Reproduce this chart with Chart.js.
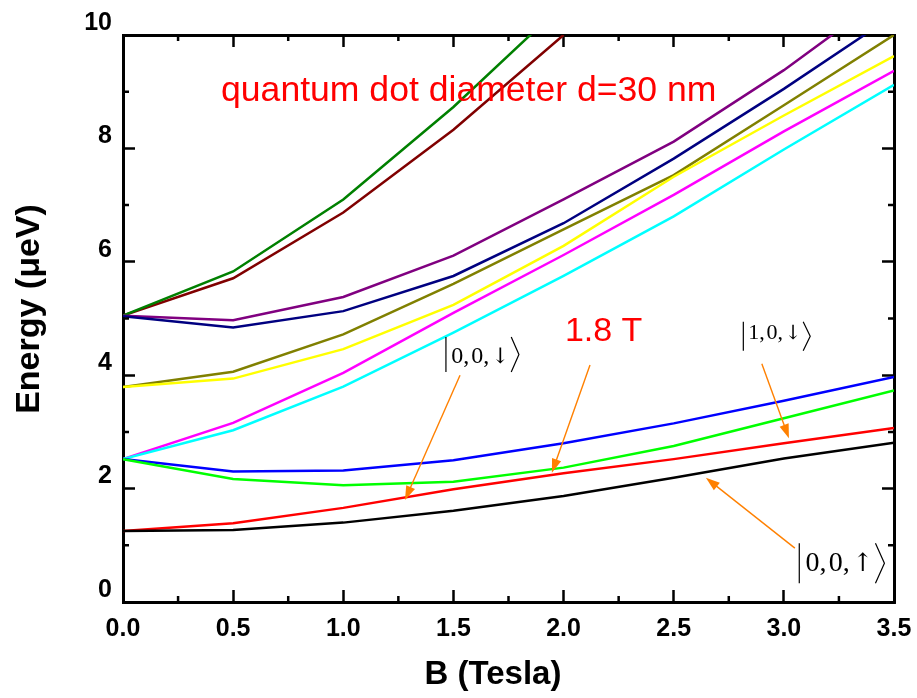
<!DOCTYPE html>
<html>
<head>
<meta charset="utf-8">
<script src="https://cdn.jsdelivr.net/npm/chart.js@4.4.0/dist/chart.umd.min.js"></script>
<style>
  html, body { margin: 0; padding: 0; background: #fff; }
  #wrap { width: 917px; height: 698px; }
</style>
</head>
<body>
<div id="wrap"><canvas id="energyChart" width="917" height="698"></canvas></div>
<script>
// magnetic field (Tesla)
const fieldB = [0, 0.5, 1.0, 1.5, 2.0, 2.5, 3.0, 3.5];

// energy levels (ueV)
const levelBlack   = [1.25, 1.27, 1.40, 1.61, 1.87, 2.19, 2.53, 2.81];
const levelRed     = [1.25, 1.39, 1.66, 1.99, 2.27, 2.52, 2.80, 3.07];
const levelLime    = [2.52, 2.17, 2.06, 2.12, 2.37, 2.75, 3.24, 3.73];
const levelBlue    = [2.52, 2.30, 2.32, 2.50, 2.80, 3.15, 3.55, 3.97];
const levelCyan    = [2.52, 3.03, 3.80, 4.75, 5.75, 6.80, 7.98, 9.12];
const levelMagenta = [2.52, 3.16, 4.04, 5.10, 6.12, 7.18, 8.30, 9.37];
const levelYellow  = [3.79, 3.94, 4.46, 5.24, 6.28, 7.50, 8.58, 9.63];
const levelOlive   = [3.79, 4.06, 4.72, 5.61, 6.57, 7.53, 8.76, 10.0];
const levelNavy    = [5.04, 4.84, 5.13, 5.75, 6.68, 7.82, 9.05, 10.35];
const levelPurple  = [5.05, 4.97, 5.38, 6.11, 7.10, 8.12, 9.38, 10.8];
const levelGreen   = [5.05, 5.83, 7.10, 8.73, 10.55, null, null, null];
const levelMaroon  = [5.05, 5.71, 6.87, 8.33, 10.0, null, null, null];

// axis ranges and ticks
const xMajorStep = 0.5;
const xMinorTicks = [0.25, 0.75, 1.25, 1.75, 2.25, 2.75, 3.25];
const yMajorStep = 2;
const yMinorTicks = [1, 3, 5, 7, 9];

const series = [
    { data: levelBlack,   color: '#000000' },
    { data: levelRed,     color: '#ff0000' },
    { data: levelLime,    color: '#00ff00' },
    { data: levelBlue,    color: '#0000ff' },
    { data: levelCyan,    color: '#00ffff' },
    { data: levelMagenta, color: '#ff00ff' },
    { data: levelYellow,  color: '#ffff00' },
    { data: levelOlive,   color: '#808000' },
    { data: levelNavy,    color: '#000080' },
    { data: levelPurple,  color: '#800080' },
    { data: levelGreen,   color: '#008000' },
    { data: levelMaroon,  color: '#800000' }
];

// annotations, in data units
const arrows = [
    [1.530, 4.00, 1.280, 1.80],
    [2.120, 4.18, 1.947, 2.28],
    [2.900, 4.20, 3.023, 2.89],
    [3.050, 0.95, 2.646, 2.19]
];
const kets = [
    { label: '0,\u200A0,\u200A', arrow: '\u2193', x: 1.466, base: 4.22, top: 4.674, bottom: 4.056, size: 24 },
    { label: '1,\u200A0,\u200A', arrow: '\u2193', x: 2.816, base: 4.63, top: 4.944, bottom: 4.432, size: 22 },
    { label: '0,\u200A0,\u200A', arrow: '\u2191', x: 3.070, base: 0.552, top: 1.035, bottom: 0.330, size: 28 }
];

Chart.defaults.font.family = "Arial, 'Liberation Sans', sans-serif";
Chart.defaults.color = '#000';

function drawArrow(ctx, x1, y1, x2, y2) {
    const ang = Math.atan2(y2 - y1, x2 - x1);
    const head = 14, half = 4.8;
    const c = Math.cos(ang), s = Math.sin(ang);
    ctx.beginPath();
    ctx.moveTo(x1, y1);
    ctx.lineTo(x2 - head * 0.7 * c, y2 - head * 0.7 * s);
    ctx.stroke();
    ctx.beginPath();
    ctx.moveTo(x2, y2);
    ctx.lineTo(x2 - head * c + half * s, y2 - head * s - half * c);
    ctx.lineTo(x2 - head * c - half * s, y2 - head * s + half * c);
    ctx.closePath();
    ctx.fill();
}

const decorations = {
    id: 'decorations',
    afterDraw(chart) {
        const ctx = chart.ctx;
        const xs = chart.scales.x, ys = chart.scales.y;
        const area = chart.chartArea;
        ctx.save();

        // minor ticks on all four sides
        ctx.strokeStyle = '#000';
        ctx.lineWidth = 2.5;
        ctx.beginPath();
        xMinorTicks.forEach(v => {
            const px = xs.getPixelForValue(v);
            ctx.moveTo(px, area.bottom); ctx.lineTo(px, area.bottom - 6);
            ctx.moveTo(px, area.top); ctx.lineTo(px, area.top + 6);
        });
        yMinorTicks.forEach(v => {
            const py = ys.getPixelForValue(v);
            ctx.moveTo(area.left, py); ctx.lineTo(area.left + 6, py);
            ctx.moveTo(area.right, py); ctx.lineTo(area.right - 6, py);
        });
        ctx.stroke();

        // axis titles
        ctx.fillStyle = '#000';
        ctx.font = "bold 33px Arial, 'Liberation Sans', sans-serif";
        ctx.textAlign = 'center';
        ctx.textBaseline = 'alphabetic';
        ctx.fillText('B (Tesla)', 493, 684);
        ctx.save();
        ctx.translate(39, 309);
        ctx.rotate(-Math.PI / 2);
        ctx.font = "bold 34px Arial, 'Liberation Sans', sans-serif";
        ctx.fillText('Energy (\u03bceV)', 0, 0);
        ctx.restore();

        // red labels
        ctx.fillStyle = '#ff0000';
        ctx.textAlign = 'left';
        ctx.font = "35.6px Arial, 'Liberation Sans', sans-serif";
        ctx.fillText('quantum dot diameter d=30 nm', xs.getPixelForValue(0.445), ys.getPixelForValue(8.84));
        ctx.font = "34px Arial, 'Liberation Sans', sans-serif";
        ctx.fillText('1.8 T', xs.getPixelForValue(2.006), ys.getPixelForValue(4.60));

        // state kets
        ctx.fillStyle = '#000';
        ctx.strokeStyle = '#000';
        ctx.lineWidth = 1.2;
        kets.forEach(k => {
            const x = xs.getPixelForValue(k.x);
            const top = ys.getPixelForValue(k.top);
            const bottom = ys.getPixelForValue(k.bottom);
            const base = ys.getPixelForValue(k.base);
            const tx = x + k.size * 0.22;
            ctx.font = k.size + "px 'Liberation Serif', 'Times New Roman', serif";
            ctx.fillText(k.label, tx, base);
            const ax = tx + ctx.measureText(k.label).width;
            ctx.font = (k.size * 0.9) + "px 'DejaVu Serif', serif";
            ctx.fillText(k.arrow, ax, base);
            const bx = ax + ctx.measureText(k.arrow).width + k.size * 0.08;
            ctx.beginPath();
            ctx.moveTo(x, top); ctx.lineTo(x, bottom);
            ctx.moveTo(bx, top);
            ctx.lineTo(bx + k.size * 0.32, (top + bottom) / 2);
            ctx.lineTo(bx, bottom);
            ctx.stroke();
        });

        // orange arrows
        ctx.strokeStyle = '#ff8000';
        ctx.fillStyle = '#ff8000';
        ctx.lineWidth = 1.4;
        arrows.forEach(a => {
            drawArrow(ctx, xs.getPixelForValue(a[0]), ys.getPixelForValue(a[1]),
                xs.getPixelForValue(a[2]), ys.getPixelForValue(a[3]));
        });
        ctx.restore();
    }
};

const tickFont = { size: 25, weight: 'bold' };
const frameGrid = { drawOnChartArea: false, drawTicks: true, tickLength: -12, tickWidth: 2.5, tickColor: '#000' };
const frameBorder = { display: true, color: '#000', width: 3 };

// fixed box sizes so the plot frame sits where it does in the figure
function fixBox(size) {
    return s => {
        if (s.isHorizontal()) { s.height = size; } else { s.width = size; }
        s.paddingLeft = 0; s.paddingRight = 0; s.paddingTop = 0; s.paddingBottom = 0;
    };
}

const ctx = document.getElementById('energyChart').getContext('2d');
const energyChart = new Chart(ctx, {
    type: 'line',
    data: {
        labels: fieldB,
        datasets: series.map(s => ({
            data: s.data.map((v, i) => ({ x: fieldB[i], y: v })),
            borderColor: s.color,
            backgroundColor: s.color,
            borderWidth: 2.5,
            pointRadius: 0,
            tension: 0,
            fill: false
        }))
    },
    options: {
        responsive: false,
        animation: false,
        layout: { padding: 0 },
        plugins: {
            legend: { display: false },
            tooltip: { enabled: false }
        },
        scales: {
            x: {
                type: 'linear', position: 'bottom', min: 0, max: 3.5,
                ticks: { stepSize: xMajorStep, font: tickFont, padding: 24, maxRotation: 0, autoSkip: false,
                    callback: v => v.toFixed(1) },
                grid: frameGrid, border: frameBorder,
                afterFit: fixBox(96)
            },
            x2: {
                type: 'linear', position: 'top', min: 0, max: 3.5,
                ticks: { stepSize: xMajorStep, display: false },
                grid: frameGrid, border: frameBorder,
                afterFit: fixBox(35)
            },
            y: {
                type: 'linear', position: 'left', min: 0, max: 10,
                ticks: { stepSize: yMajorStep, font: tickFont, padding: 23, labelOffset: -12, autoSkip: false },
                grid: frameGrid, border: frameBorder,
                afterFit: fixBox(123)
            },
            y2: {
                type: 'linear', position: 'right', min: 0, max: 10,
                ticks: { stepSize: yMajorStep, display: false },
                grid: frameGrid, border: frameBorder,
                afterFit: fixBox(23)
            }
        }
    },
    plugins: [decorations]
});
</script>
</body>
</html>
